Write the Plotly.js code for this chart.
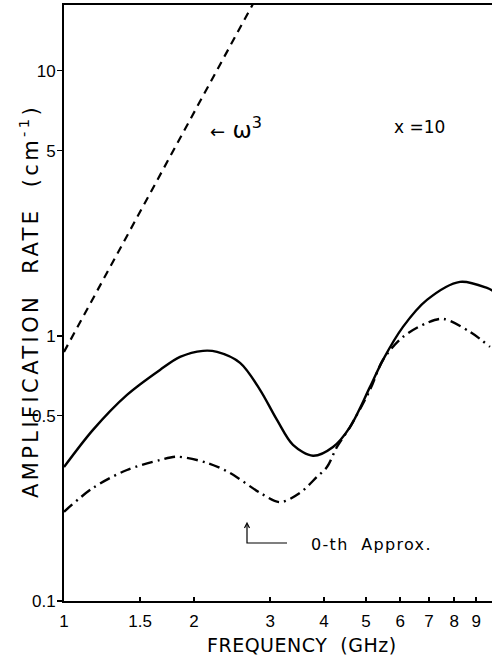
<!DOCTYPE html>
<html>
<head>
<meta charset="utf-8">
<script src="https://cdn.plot.ly/plotly-3.0.1.min.js"></script>
<style>html,body{margin:0;padding:0;background:#fff;}#chart{width:492px;height:661px;}</style>
</head>
<body>
<div id="chart"></div>
<script>
// ω³ reference line (dashed)
const omegaFreq = [1.0, 3.0];
const omegaAmp = [0.87, 23.5];

// full calculation (solid)
const solidFreq = [1.000, 1.167, 1.399, 1.668, 1.856, 2.098, 2.261, 2.556, 2.843, 3.112, 3.389, 3.771, 4.195, 4.592, 5.110, 5.476, 6.091, 6.921, 8.254, 9.532, 9.90];
const solidAmp  = [0.320, 0.442, 0.599, 0.744, 0.833, 0.878, 0.870, 0.791, 0.626, 0.482, 0.388, 0.353, 0.381, 0.453, 0.642, 0.812, 1.081, 1.367, 1.599, 1.517, 1.47];

// 0-th approximation (dash-dot)
const approxFreq = [1.000, 1.167, 1.399, 1.668, 1.827, 2.143, 2.423, 2.843, 3.162, 3.518, 3.852, 4.062, 4.284, 4.592, 5.110, 5.476, 6.091, 6.921, 7.539, 8.708, 9.685];
const approxAmp  = [0.217, 0.267, 0.312, 0.340, 0.350, 0.332, 0.304, 0.256, 0.236, 0.256, 0.294, 0.320, 0.381, 0.453, 0.626, 0.812, 0.991, 1.119, 1.159, 1.035, 0.909];

// tick labels
const xTickVals = [1, 1.5, 2, 3, 4, 5, 6, 7, 8, 9];
const xTickText = ['1', '1.5', '2', '3', '4', '5', '6', '7', '8', '9'];
const yTickVals = [0.1, 0.5, 1, 5, 10];
const yTickText = ['0.1', '0.5', '1', '5', '10'];

const FONT = 'DejaVu Sans, Liberation Sans, sans-serif';
const TICKFONT = 'Liberation Sans, Arial, sans-serif';

// helpers: pixel -> paper fraction (plot area 64..492 x, 5..601 y)
const px = v => (v - 64) / 428;
const py = v => (601 - v) / 596;

const traces = [
  {x: omegaFreq, y: omegaAmp, mode: 'lines', line: {color: '#000', width: 2.2, dash: '8px,6px'}, hoverinfo: 'skip'},
  {x: solidFreq, y: solidAmp, mode: 'lines', line: {color: '#000', width: 2.4, shape: 'spline', smoothing: 0.9}, hoverinfo: 'skip'},
  {x: approxFreq, y: approxAmp, mode: 'lines', line: {color: '#000', width: 2.4, shape: 'spline', smoothing: 0.9, dash: '11px,5px,2px,5px'}, hoverinfo: 'skip'}
];

const layout = {
  width: 492, height: 661,
  margin: {l: 64, r: 0, t: 5, b: 60},
  paper_bgcolor: '#fff', plot_bgcolor: '#fff',
  showlegend: false,
  font: {family: FONT, color: '#000', size: 16},
  xaxis: {
    type: 'log', range: [0, Math.log10(9.79)],
    tickvals: xTickVals, ticktext: xTickText,
    ticks: 'inside', ticklen: 4, tickwidth: 1.5, tickcolor: '#000',
    ticklabelstandoff: 4,
    showline: true, linecolor: '#000', linewidth: 2, mirror: true,
    showgrid: false, zeroline: false,
    tickfont: {family: TICKFONT, size: 17, color: '#000'}
  },
  yaxis: {
    type: 'log', range: [-1, Math.log10(17.7)],
    tickvals: yTickVals, ticktext: yTickText,
    ticks: 'outside', ticklen: 5, tickwidth: 1.5, tickcolor: '#000',
    ticklabelstandoff: -2,
    showline: true, linecolor: '#000', linewidth: 2, mirror: false,
    showgrid: false, zeroline: false,
    tickfont: {family: TICKFONT, size: 17, color: '#000'}
  },
  shapes: [
    {type: 'path', xref: 'paper', yref: 'paper',
     path: `M ${px(287)} ${py(543)} L ${px(247)} ${py(543)} L ${px(247)} ${py(524)}`,
     line: {color: '#000', width: 1.2}},
    {type: 'path', xref: 'paper', yref: 'paper',
     path: `M ${px(244.5)} ${py(528)} L ${px(247)} ${py(523)} L ${px(249.5)} ${py(528)}`,
     line: {color: '#000', width: 1.2}}
  ],
  annotations: [
    {xref: 'paper', yref: 'paper', x: px(302), y: py(645), xanchor: 'center', yanchor: 'middle', showarrow: false,
     text: '<span style="letter-spacing:0.5px">FREQUENCY\u00a0\u00a0(GHz)</span>', font: {family: FONT, size: 19, color: '#000'}},
    {xref: 'paper', yref: 'paper', x: px(29), y: py(301), xanchor: 'center', yanchor: 'middle', showarrow: false, textangle: -90,
     text: '<span style="letter-spacing:3.4px">AMPLIFICATION\u00a0\u00a0RATE\u00a0\u00a0(cm<sup>-1</sup>)</span>',
     font: {family: FONT, size: 21, color: '#000'}},
    {xref: 'paper', yref: 'paper', x: px(208), y: py(128), xanchor: 'left', yanchor: 'middle', showarrow: false,
     text: '<span style="font-size:18px">\u2190</span> \u03c9<sup>3</sup>', font: {family: FONT, size: 23, color: '#000'}},
    {xref: 'paper', yref: 'paper', x: px(392), y: py(127), xanchor: 'left', yanchor: 'middle', showarrow: false,
     text: 'x =10', font: {family: FONT, size: 17, color: '#000'}},
    {xref: 'paper', yref: 'paper', x: px(309), y: py(544), xanchor: 'left', yanchor: 'middle', showarrow: false,
     text: '<span style="letter-spacing:1.3px">0-th\u00a0\u00a0Approx.</span>', font: {family: FONT, size: 16, color: '#000'}}
  ]
};

Plotly.newPlot('chart', traces, layout, {staticPlot: true, displayModeBar: false});
</script>
</body>
</html>
